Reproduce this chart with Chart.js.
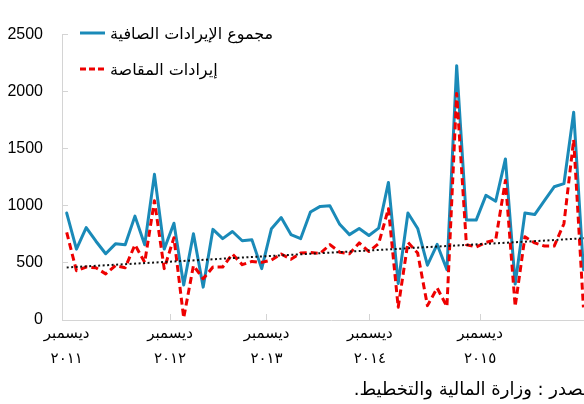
<!DOCTYPE html>
<html>
<head>
<meta charset="utf-8">
<script src="https://cdn.jsdelivr.net/npm/chart.js@4/dist/chart.umd.min.js"></script>
<style>
html,body{margin:0;padding:0;background:#fff;overflow:hidden;width:584px;height:404px;}
#wrap{position:absolute;left:0;top:0;width:600px;height:404px;}
#legend{position:absolute;left:80px;top:0;font-family:"DejaVu Sans",sans-serif;font-size:16px;color:#000;}
.item{position:absolute;left:0;height:20px;display:flex;align-items:center;white-space:nowrap;}
.item svg{display:block;margin-right:5px;}
#source{position:absolute;right:-4px;top:378px;width:620px;text-align:right;direction:rtl;font-family:"DejaVu Sans",sans-serif;font-size:18px;color:#000;}
</style>
</head>
<body>
<div id="wrap">
  <canvas id="c"></canvas>
  <div id="legend">
    <div class="item" style="top:23px"><svg width="25" height="4"><line x1="0" y1="2" x2="25" y2="2" stroke="#1a8ab8" stroke-width="3"/></svg><span dir="rtl">مجموع الإيرادات الصافية</span></div>
    <div class="item" style="top:59px"><svg width="25" height="4"><line x1="0" y1="2" x2="25" y2="2" stroke="#ee0000" stroke-width="3" stroke-dasharray="6,3"/></svg><span dir="rtl">إيرادات المقاصة</span></div>
  </div>
  <div id="source">المصدر : وزارة المالية والتخطيط.</div>
</div>
<script>
// Monthly periods, December 2011 onwards
const periods = [
  '2011-12','2012-01','2012-02','2012-03','2012-04','2012-05','2012-06','2012-07','2012-08','2012-09','2012-10','2012-11',
  '2012-12','2013-01','2013-02','2013-03','2013-04','2013-05','2013-06','2013-07','2013-08','2013-09','2013-10','2013-11',
  '2013-12','2014-01','2014-02','2014-03','2014-04','2014-05','2014-06','2014-07','2014-08','2014-09','2014-10','2014-11',
  '2014-12','2015-01','2015-02','2015-03','2015-04','2015-05','2015-06','2015-07','2015-08','2015-09','2015-10','2015-11',
  '2015-12','2016-01','2016-02','2016-03','2016-04','2016-05'
];
// مجموع الإيرادات الصافية
const netRevenue = [
  937, 621, 810, 690, 580, 667, 659, 910, 659, 1276, 621, 848,
  307, 756, 288, 794, 713, 775, 694, 702, 450, 800, 897, 748,
  713, 946, 995, 1000, 838, 748, 802, 740, 805, 1205, 320, 937,
  802, 480, 662, 440, 2228, 875, 875, 1092, 1040, 1411, 315, 937,
  924, 1046, 1167, 1194, 1820, 440
];
// إيرادات المقاصة
const clearanceRevenue = [
  767, 432, 464, 458, 404, 477, 458, 659, 505, 1045, 450, 721,
  18, 477, 361, 464, 464, 578, 485, 513, 505, 525, 578, 532,
  586, 591, 583, 660, 594, 580, 675, 600, 670, 975, 112, 680,
  586, 126, 280, 118, 1985, 659, 640, 680, 702, 1222, 118, 729,
  675, 648, 648, 843, 1579, 110
];
// Linear trend of clearance revenue (start / end of the visible span)
const trendPeriodIndex = [0, 54];
const trendValues = [460, 720];
// Axis labels
const tickMonth = 'ديسمبر';
const tickYears = ['٢٠١١', '٢٠١٢', '٢٠١٣', '٢٠١٤', '٢٠١٥'];
const yTicks = [0, 500, 1000, 1500, 2000, 2500];

// ---- layout / style options ----
const labelAt = [0, 10.6, 20.5, 31.1, 42.4];
const axisGray = '#d4d4d4';

const toPoints = arr => arr.map((v, i) => ({ x: i, y: v }));

new Chart(document.getElementById('c'), {
  type: 'line',
  data: {
    datasets: [
      {
        label: 'trend',
        data: trendPeriodIndex.map((x, i) => ({ x: x, y: trendValues[i] })),
        borderColor: '#111',
        borderWidth: 2,
        borderDash: [2, 2.5],
        pointRadius: 0,
        tension: 0,
        order: 0
      },
      {
        label: 'إيرادات المقاصة',
        data: toPoints(clearanceRevenue),
        borderColor: '#ee0000',
        borderWidth: 3,
        borderDash: [7, 4],
        pointRadius: 0,
        tension: 0,
        borderJoinStyle: 'round',
        order: 1
      },
      {
        label: 'مجموع الإيرادات الصافية',
        data: toPoints(netRevenue),
        borderColor: '#1a8ab8',
        borderWidth: 3,
        pointRadius: 0,
        tension: 0,
        borderJoinStyle: 'round',
        borderCapStyle: 'round',
        order: 2
      }
    ]
  },
  options: {
    responsive: true,
    maintainAspectRatio: false,
    animation: false,
    events: [],
    layout: { padding: { top: 12, left: 0, right: 0, bottom: 0 } },
    plugins: { legend: { display: false }, tooltip: { enabled: false } },
    scales: {
      x: {
        type: 'linear',
        min: -0.482,
        max: 54.70,
        afterBuildTicks: s => { s.ticks = labelAt.map(v => ({ value: v })); },
        afterFit: s => { s.height = 84; s.paddingLeft = 0; s.paddingRight = 0; },
        ticks: {
          autoSkip: false,
          maxRotation: 0,
          padding: 8,
          color: '#000',
          font: { family: 'DejaVu Sans', size: 15, lineHeight: 1.667 },
          callback: (v, i) => [tickMonth, tickYears[i]]
        },
        grid: {
          drawOnChartArea: false,
          tickLength: -6,
          color: ctx => (ctx.index === 0 ? 'rgba(0,0,0,0)' : axisGray)
        },
        border: { color: axisGray, width: 1 }
      },
      y: {
        min: 0,
        max: 2500,
        afterBuildTicks: s => { s.ticks = yTicks.map(v => ({ value: v })); },
        afterFit: s => { s.width = 62; },
        ticks: {
          padding: 25,
          color: '#000',
          font: { family: 'Liberation Sans', size: 16 },
          callback: v => String(v)
        },
        grid: {
          drawOnChartArea: false,
          tickLength: -6,
          color: axisGray
        },
        border: { color: axisGray, width: 1 }
      }
    }
  }
});
</script>
</body>
</html>
